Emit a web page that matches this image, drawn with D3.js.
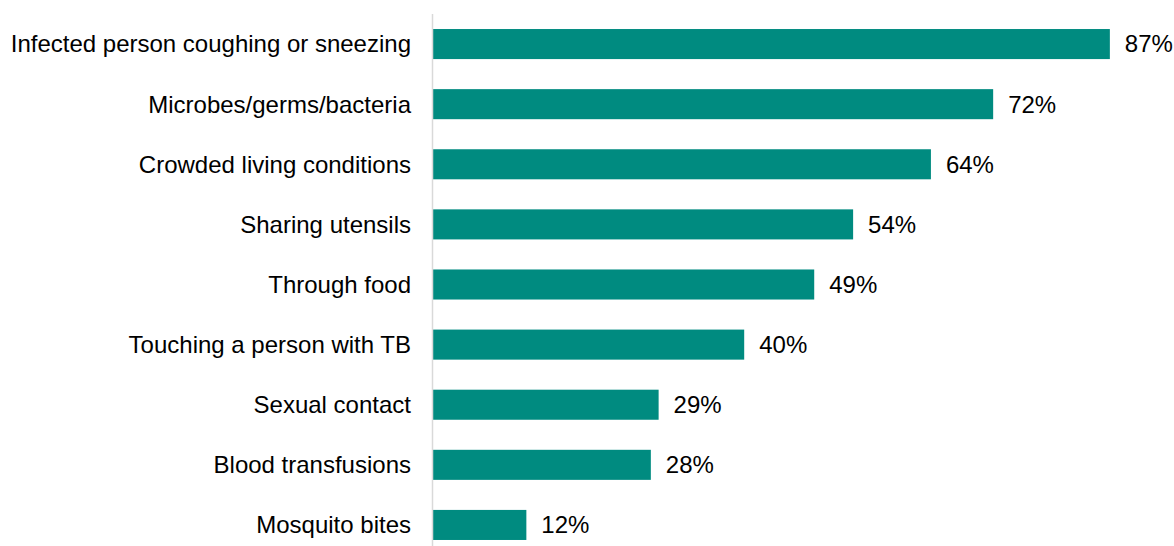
<!DOCTYPE html>
<html>
<head>
<meta charset="utf-8">
<script src="https://cdn.jsdelivr.net/npm/d3@7"></script>
<style>
  body { margin: 0; background: #fff; }
  text { font-family: "Liberation Sans", Arial, sans-serif; }
</style>
</head>
<body>
<script>
var categories = ["Infected person coughing or sneezing", "Microbes/germs/bacteria", "Crowded living conditions",
  "Sharing utensils", "Through food", "Touching a person with TB", "Sexual contact",
  "Blood transfusions", "Mosquito bites"];
var values = [87, 72, 64, 54, 49, 40, 29, 28, 12];

var w = 1174;
var h = 546;
var left = 433;

var svg = d3.select("body")
        .append("svg")
        .attr("width", w)
        .attr("height", h);

var x = d3.scaleLinear().domain([0, 100]).range([left, left + 778]);
var y = d3.scaleBand().domain(categories).range([14, 555])
        .paddingInner(0.5).paddingOuter(0.25);

svg.selectAll("rect")
  .data(values)
  .enter()
  .append("rect")
  .attr("x", x(0))
  .attr("y", function(d, i){ return y(categories[i]); })
  .attr("width", function(d){ return x(d) - x(0); })
  .attr("height", y.bandwidth())
  .style("fill", "#008B80");

// axis line
svg.append("line")
  .attr("x1", left - 0.5).attr("x2", left - 0.5)
  .attr("y1", 14).attr("y2", h)
  .style("stroke", "#d9d9d9")
  .style("stroke-width", 1.5);

svg.selectAll("text.cat")
  .data(categories)
  .enter()
  .append("text")
  .attr("class", "cat")
  .attr("x", left - 22)
  .attr("y", function(d){ return y(d) + y.bandwidth() / 2; })
  .attr("dy", "0.35em")
  .style("text-anchor", "end")
  .style("font-size", "24px")
  .style("fill", "#000")
  .text(function(d){ return d; });

svg.selectAll("text.val")
  .data(values)
  .enter()
  .append("text")
  .attr("class", "val")
  .attr("x", function(d){ return x(d) + 15; })
  .attr("y", function(d, i){ return y(categories[i]) + y.bandwidth() / 2; })
  .attr("dy", "0.35em")
  .style("font-size", "24px")
  .style("fill", "#000")
  .text(function(d){ return d + "%"; });
</script>
</body>
</html>
